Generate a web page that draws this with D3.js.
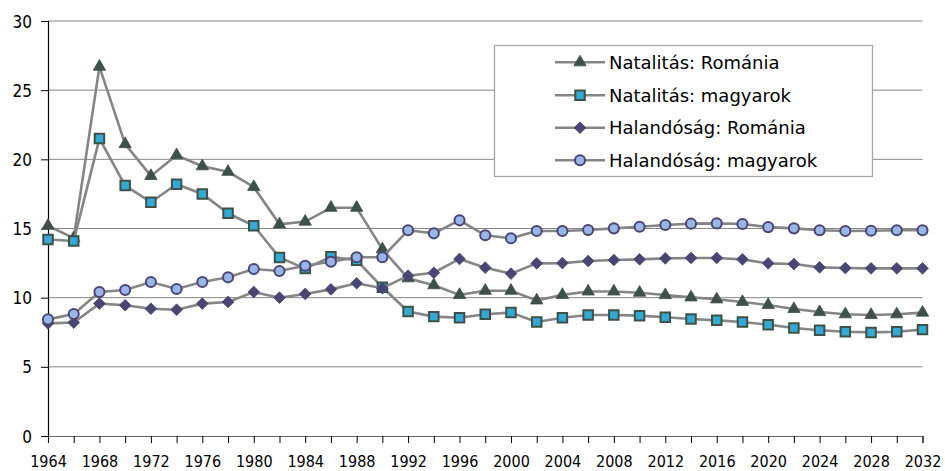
<!DOCTYPE html>
<html>
<head>
<meta charset="utf-8">
<script src="https://cdn.jsdelivr.net/npm/d3@7"></script>
<style>
  html, body { margin: 0; padding: 0; background: #fff; }
  svg text { fill: #000; }
  .axis text { font-family: "DejaVu Sans Condensed", "DejaVu Sans", sans-serif; font-stretch: condensed; }
  .legend text { font-family: "DejaVu Sans", sans-serif; }
</style>
</head>
<body>
<svg id="chart" width="945" height="471"></svg>
<script>
const years = d3.range(1964, 2033, 2);
const yTicks = [0, 5, 10, 15, 20, 25, 30];
const xLabelYears = d3.range(1964, 2033, 4);

const seriesNames = ["Natalitás: Románia", "Natalitás: magyarok", "Halandóság: Románia", "Halandóság: magyarok"];

const natalitasRomania = [15.2, 14.3, 26.7, 21.1, 18.8, 20.3, 19.5, 19.1, 18.0, 15.3, 15.5, 16.5, 16.5, 13.5, 11.4, 10.9, 10.2, 10.5, 10.5, 9.8, 10.2, 10.45, 10.45, 10.36, 10.19, 10.02, 9.88, 9.69, 9.47, 9.18, 8.96, 8.8, 8.75, 8.8, 8.92];
const natalitasMagyarok = [14.2, 14.1, 21.5, 18.1, 16.9, 18.2, 17.5, 16.1, 15.2, 12.9, 12.1, 12.95, 12.7, 10.75, 9.0, 8.63, 8.55, 8.8, 8.92, 8.24, 8.55, 8.75, 8.75, 8.7, 8.58, 8.46, 8.36, 8.24, 8.05, 7.81, 7.64, 7.54, 7.49, 7.54, 7.69];
const halandosagRomania = [8.14, 8.2, 9.57, 9.45, 9.2, 9.13, 9.57, 9.69, 10.41, 10.0, 10.27, 10.6, 11.04, 10.68, 11.59, 11.8, 12.8, 12.17, 11.74, 12.48, 12.5, 12.65, 12.72, 12.77, 12.84, 12.87, 12.87, 12.77, 12.48, 12.43, 12.19, 12.14, 12.12, 12.12, 12.12];
const halandosagMagyarok = [8.43, 8.82, 10.41, 10.55, 11.13, 10.63, 11.13, 11.47, 12.07, 11.93, 12.31, 12.6, 12.92, 12.92, 14.87, 14.65, 15.59, 14.51, 14.29, 14.82, 14.82, 14.89, 15.01, 15.13, 15.25, 15.35, 15.37, 15.32, 15.1, 15.01, 14.87, 14.82, 14.84, 14.87, 14.87];

const seriesValues = [natalitasRomania, natalitasMagyarok, halandosagRomania, halandosagMagyarok];

const styles = [
  { shape: "triangle", fill: "#3e5048", stroke: "#3e5048" },
  { shape: "square",   fill: "#33a9d3", stroke: "#3d5149" },
  { shape: "diamond",  fill: "#4a4674", stroke: "#4a4674" },
  { shape: "circle",   fill: "#9ab6e6", stroke: "#4a4674" }
];

const svg = d3.select("#chart");
const x = d3.scaleLinear().domain([1964, 2032]).range([48, 922.5]);
const y = d3.scaleLinear().domain([0, 30]).range([436, 21]);

// gridlines
svg.append("g").selectAll("line").data(yTicks.filter(d => d > 0)).join("line")
  .attr("x1", x.range()[0]).attr("x2", x.range()[1])
  .attr("y1", d => y(d)).attr("y2", d => y(d))
  .attr("stroke", "#878787").attr("stroke-width", 1);

// y axis
const yAxis = d3.axisLeft(y).tickValues(yTicks).tickSize(7).tickPadding(9).tickFormat(d3.format("d"));
const gy = svg.append("g").attr("class", "axis").attr("transform", `translate(${x.range()[0]},0)`).call(yAxis);
gy.select(".domain").attr("stroke", "#000").attr("stroke-width", 1.2);
gy.selectAll(".tick line").attr("stroke", "#000");
gy.selectAll(".tick text").style("font-size", "17px").attr("dy", "0.36em").attr("x", -16);

// x axis
const xAxis = d3.axisBottom(x).tickValues(years).tickSize(7).tickPadding(14)
  .tickFormat(d => xLabelYears.includes(d) ? String(d) : "");
const gx = svg.append("g").attr("class", "axis").attr("transform", `translate(0,${y(0)})`).call(xAxis);
gx.select(".domain").attr("stroke", "#666").attr("stroke-width", 1.2);
gx.selectAll(".tick line").attr("stroke", "#000");
gx.selectAll(".tick text").style("font-size", "16px").attr("y", 31).attr("dy", "0");

function markerPath(shape) {
  if (shape === "triangle") return d3.symbol(d3.symbolTriangle, 66)();
  if (shape === "square") return d3.symbol(d3.symbolSquare, 90)();
  if (shape === "diamond") return d3.symbol(d3.symbolSquare, 68)();
  return d3.symbol(d3.symbolCircle, 80)();
}

const line = d3.line().x((d, i) => x(years[i])).y(d => y(d));

seriesValues.forEach((vals, si) => {
  const st = styles[si];
  const g = svg.append("g");
  g.append("path").datum(vals).attr("d", line)
    .attr("fill", "none").attr("stroke", "#858585").attr("stroke-width", 2.6);
  g.selectAll("path.m").data(vals).join("path").attr("class", "m")
    .attr("d", markerPath(st.shape))
    .attr("transform", (d, i) => `translate(${x(years[i])},${y(d)})` + (st.shape === "diamond" ? " rotate(45)" : ""))
    .attr("fill", st.fill).attr("stroke", st.stroke)
    .attr("stroke-width", st.shape === "triangle" || st.shape === "diamond" ? 0.8 : 2);
});

// legend
const lg = svg.append("g").attr("class", "legend");
lg.append("rect").attr("x", 494.5).attr("y", 45.5).attr("width", 378).attr("height", 131)
  .attr("fill", "#fff").attr("stroke", "#a6a6a6").attr("stroke-width", 1.3);
const legendY = [62.3, 95.3, 127.7, 160.3];
seriesNames.forEach((name, i) => {
  const st = styles[i];
  const cy = legendY[i];
  lg.append("line").attr("x1", 555).attr("x2", 605).attr("y1", cy).attr("y2", cy)
    .attr("stroke", "#858585").attr("stroke-width", 2.6);
  lg.append("path").attr("d", markerPath(st.shape))
    .attr("transform", `translate(580,${cy})` + (st.shape === "diamond" ? " rotate(45)" : ""))
    .attr("fill", st.fill).attr("stroke", st.stroke)
    .attr("stroke-width", st.shape === "triangle" || st.shape === "diamond" ? 0.8 : 2);
  lg.append("text").attr("x", 609).attr("y", cy).attr("dy", "0.36em")
    .style("font-size", "18px").text(name);
});
</script>
</body>
</html>
